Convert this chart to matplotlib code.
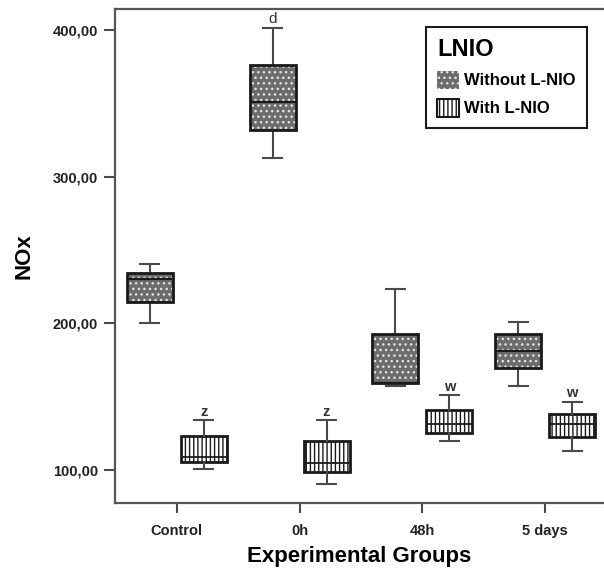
import matplotlib
matplotlib.use('Agg')
import matplotlib.pyplot as plt
from matplotlib.patches import PathPatch, Patch

plt.rcParams['font.family'] = ['Liberation Sans', 'DejaVu Sans']
plt.rcParams['hatch.linewidth'] = 1.0

groups = ['Control', '0h', '48h', '5 days']
y_ticks = [100, 200, 300, 400]
y_ticklabels = ['100,00', '200,00', '300,00', '400,00']

# box stats: low whisker, q1, median, q3, high whisker
without_lo = [200.2, 312.7, 157.3, 157.3]
without_q1 = [214.8, 331.8, 159.1, 169.5]
without_med = [230.2, 350.9, 159.1, 181.1]
without_q3 = [234.5, 376.1, 192.7, 192.7]
without_hi = [240.5, 401.4, 223.4, 200.9]
without_marks = ['', 'd', '', '']

with_lo = [100.7, 90.5, 119.8, 113.0]
with_q1 = [105.5, 98.6, 125.2, 122.5]
with_med = [108.7, 104.8, 131.4, 131.4]
with_q3 = [123.4, 119.8, 140.9, 138.2]
with_hi = [134.1, 134.1, 151.1, 146.4]
with_marks = ['z', 'z', 'w', 'w']

def make_stats(lo, q1, med, q3, hi):
    return [dict(whislo=a, q1=b, med=c, q3=d, whishi=e, fliers=[])
            for a, b, c, d, e in zip(lo, q1, med, q3, hi)]

fig = plt.figure(figsize=(6.04, 5.72), dpi=100)
ax = fig.add_axes([0.19, 0.1206, 0.81, 0.8636])

dark = '#6c6c6c'
line_c = '#4a4a4a'
off = 0.22
w = 0.375

pos_wo = [i - off for i in range(len(groups))]
pos_w = [i + off for i in range(len(groups))]

common = dict(widths=w, capwidths=0.155, patch_artist=True, showfliers=False,
              whiskerprops=dict(color=line_c, lw=1.5),
              capprops=dict(color=line_c, lw=1.5))

b1 = ax.bxp(make_stats(without_lo, without_q1, without_med, without_q3, without_hi),
            positions=pos_wo,
            boxprops=dict(facecolor=dark, edgecolor='#e4e4e4', lw=0, hatch='...'),
            medianprops=dict(color='#1a1a1a', lw=1.6), **common)
for p in b1['boxes']:
    ax.add_patch(PathPatch(p.get_path(), fill=False, edgecolor='#1a1a1a', lw=2, zorder=3))

b2 = ax.bxp(make_stats(with_lo, with_q1, with_med, with_q3, with_hi),
            positions=pos_w,
            boxprops=dict(facecolor='white', edgecolor='#1a1a1a', lw=2, hatch='||||'),
            medianprops=dict(color='#1a1a1a', lw=1.3), **common)

for x, top, m in zip(pos_wo, without_hi, without_marks):
    if m:
        ax.text(x, top + 1, m, ha='center', va='bottom', fontsize=11, color='#333333')
for x, top, m in zip(pos_w, with_hi, with_marks):
    ax.text(x, top + 1, m, ha='center', va='bottom', fontsize=10.5,
            fontweight='bold', color='#333333')

ax.set_xlim(-0.505, 3.48)
ax.set_ylim(77.5, 414.3)
ax.set_xticks(range(len(groups)))
ax.set_xticklabels(groups, fontsize=10.5, fontweight='bold', color='#222222')
ax.set_yticks(y_ticks)
ax.set_yticklabels(y_ticklabels, fontsize=10.5, fontweight='bold', color='#222222')
ax.tick_params(axis='y', length=8, width=1.5, color=line_c, pad=4)
ax.tick_params(axis='x', length=7, width=1.5, color=line_c, pad=8)

for s in ['left', 'top', 'bottom']:
    ax.spines[s].set_color('#555555')
    ax.spines[s].set_linewidth(1.6)
ax.spines['right'].set_visible(False)

ax.set_xlabel('Experimental Groups', fontsize=16, fontweight='bold', labelpad=6)
ax.set_ylabel('NOx', fontsize=16, fontweight='bold', labelpad=13)

handles = [Patch(facecolor=dark, edgecolor='#e4e4e4', hatch='...', lw=0),
           Patch(facecolor='white', edgecolor='#1a1a1a', hatch='||||', lw=1.5)]
leg = ax.legend(handles, ['Without L-NIO', 'With L-NIO'], title='LNIO',
                loc='upper right', bbox_to_anchor=(0.965, 0.964), borderaxespad=0,
                fontsize=12, title_fontproperties=dict(size=17, weight='bold'),
                alignment='left', handlelength=1.3, handleheight=1.3,
                handletextpad=0.35, labelspacing=0.6, borderpad=0.65,
                fancybox=False, edgecolor='#1a1a1a', framealpha=1)
leg.get_frame().set_linewidth(1.5)
for t in leg.get_texts():
    t.set_fontweight('bold')

fig.savefig('out.png', dpi=100)
